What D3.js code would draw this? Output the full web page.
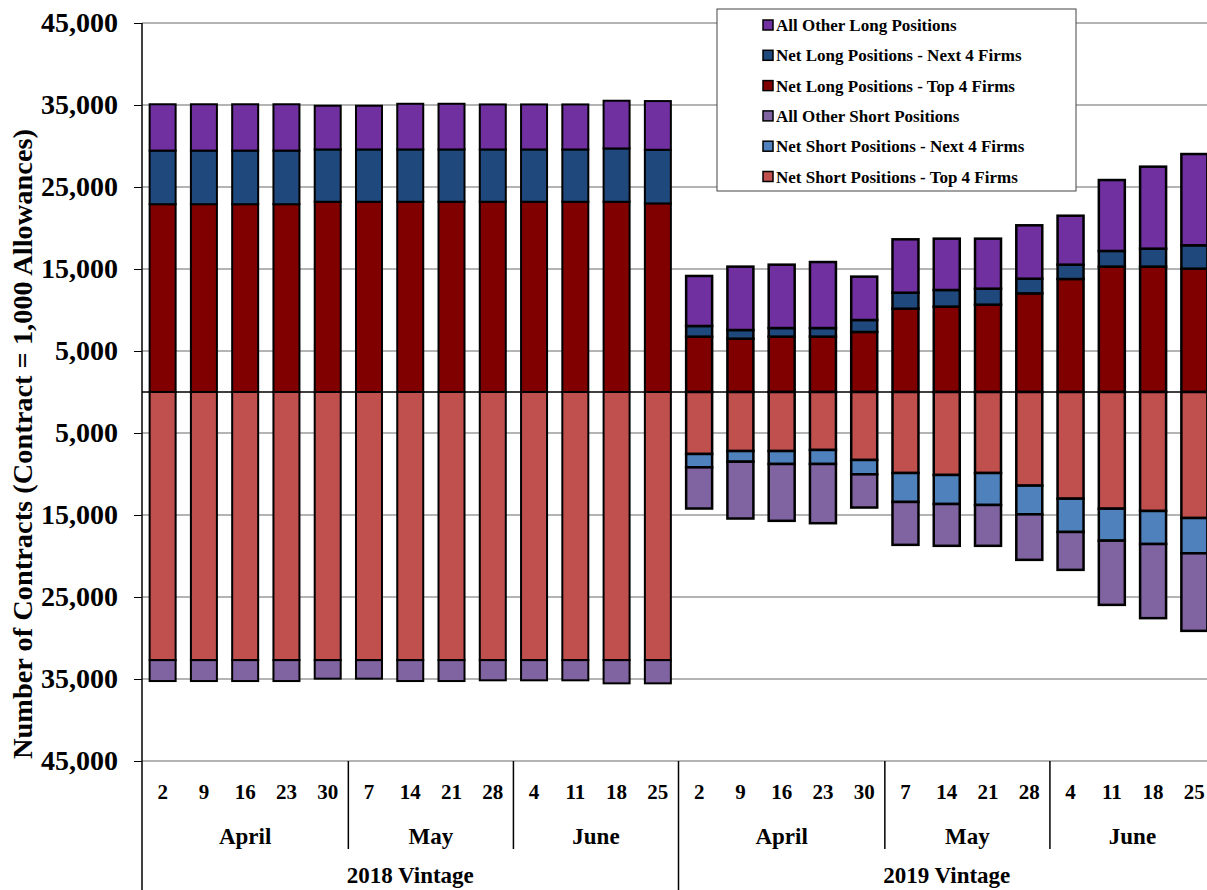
<!DOCTYPE html>
<html>
<head>
<meta charset="utf-8">
<script src="https://cdn.jsdelivr.net/npm/d3@7"></script>
<style>
  body { margin: 0; background: #fff; }
  text { font-family: "Liberation Serif", "Times New Roman", serif; font-weight: bold; fill: #000; }
</style>
</head>
<body>
<svg id="chart" width="1207" height="890"></svg>
<script>
// week days (Tuesdays) for each vintage, April-June
const days = ["2", "9", "16", "23", "30", "7", "14", "21", "28", "4", "11", "18", "25"];
const months = ["April", "May", "June"];
const monthSpans = [5, 4, 4];
const vintages = ["2018 Vintage", "2019 Vintage"];

// long side (thousand-allowance contracts), 2018 then 2019
const longTop4 = [22900, 22900, 22900, 22900, 23200, 23200, 23200, 23200, 23200, 23200, 23200, 23200, 23000,
  6750, 6500, 6750, 6750, 7320, 10160, 10410, 10650, 12030, 13780, 15290, 15290, 15040];
const longNext4 = [6540, 6540, 6540, 6540, 6380, 6380, 6380, 6380, 6380, 6380, 6380, 6500, 6540,
  1300, 1060, 1050, 1050, 1460, 1950, 2030, 1950, 1790, 1750, 1910, 2190, 2850];
const longOther = [5650, 5650, 5650, 5650, 5330, 5330, 5570, 5570, 5490, 5490, 5490, 5820, 5940,
  6100, 7730, 7730, 8050, 5290, 6510, 6260, 6100, 6510, 5970, 8650, 10000, 11130];

// short side
const shortTop4 = [32700, 32700, 32700, 32700, 32700, 32700, 32700, 32700, 32700, 32700, 32700, 32700, 32700,
  7560, 7200, 7200, 7070, 8290, 9880, 10120, 9880, 11420, 13010, 14230, 14510, 15370];
const shortNext4 = [0, 0, 0, 0, 0, 0, 0, 0, 0, 0, 0, 0, 0,
  1630, 1300, 1580, 1710, 1750, 3530, 3540, 3900, 3500, 4060, 3900, 4030, 4300];
const shortOther = [2550, 2550, 2550, 2550, 2260, 2260, 2550, 2550, 2460, 2460, 2460, 2830, 2830,
  5020, 6930, 6930, 7220, 4050, 5230, 5100, 4980, 5550, 4620, 7830, 9040, 9460];

const yTicks = [45000, 35000, 25000, 15000, 5000, -5000, -15000, -25000, -35000, -45000];

const series = [
  { key: "longTop4", name: "Net Long Positions - Top 4 Firms", color: "#800000", values: longTop4, sign: 1 },
  { key: "longNext4", name: "Net Long Positions - Next 4 Firms", color: "#1f497d", values: longNext4, sign: 1 },
  { key: "longOther", name: "All Other Long Positions", color: "#7030a0", values: longOther, sign: 1 },
  { key: "shortTop4", name: "Net Short Positions - Top 4 Firms", color: "#c0504d", values: shortTop4, sign: -1 },
  { key: "shortNext4", name: "Net Short Positions - Next 4 Firms", color: "#4f81bd", values: shortNext4, sign: -1 },
  { key: "shortOther", name: "All Other Short Positions", color: "#8064a2", values: shortOther, sign: -1 }
];
const legendOrder = ["longOther", "longNext4", "longTop4", "shortOther", "shortNext4", "shortTop4"];

const n = longTop4.length;
const rows = d3.range(n).map(i => {
  const r = { i };
  series.forEach(s => { r[s.key] = s.sign * s.values[i]; });
  return r;
});

const svg = d3.select("#chart");
const plotLeft = 142, plotTop = 23, plotBottom = 761, plotRight = 1215;

const x = d3.scaleBand().domain(d3.range(n)).range([plotLeft, plotRight])
  .paddingInner(0.37).paddingOuter(0.185);
const step = x.step();
const y = d3.scaleLinear().domain([-45000, 45000]).range([plotBottom, plotTop]);

// gridlines
svg.append("g").selectAll("line").data(yTicks).join("line")
  .attr("x1", plotLeft).attr("x2", plotRight)
  .attr("y1", d => y(d)).attr("y2", d => y(d))
  .attr("stroke", "#6a6a6a").attr("stroke-width", 1.2);

// bars
const stack = d3.stack().keys(series.map(s => s.key)).offset(d3.stackOffsetDiverging);
const stacked = stack(rows);
const colorOf = Object.fromEntries(series.map(s => [s.key, s.color]));

svg.append("g").selectAll("g").data(stacked).join("g")
  .attr("fill", d => colorOf[d.key])
  .selectAll("rect").data(d => d.filter(p => p[1] !== p[0])).join("rect")
  .attr("x", d => x(d.data.i))
  .attr("width", x.bandwidth())
  .attr("y", d => y(Math.max(d[0], d[1])))
  .attr("height", d => Math.abs(y(d[0]) - y(d[1])))
  .attr("stroke", "#000")
  .attr("stroke-width", d => d.data.i < 13 ? 2 : 2.5);

// zero line
svg.append("line").attr("x1", plotLeft).attr("x2", plotRight)
  .attr("y1", y(0)).attr("y2", y(0)).attr("stroke", "#000").attr("stroke-width", 1.5);

// y axis
const yAxis = d3.axisLeft(y).tickValues(yTicks).tickSize(8).tickPadding(16)
  .tickFormat(d => d3.format(",")(Math.abs(d)));
const gy = svg.append("g").attr("transform", `translate(${plotLeft},0)`).call(yAxis);
gy.select(".domain").remove();
gy.selectAll(".tick line").attr("stroke", "#000");
gy.selectAll(".tick text").style("font-size", "28px")
  .style("font-family", "'Liberation Serif', serif").style("font-weight", "bold").attr("fill", "#000");
svg.append("line").attr("x1", plotLeft).attr("x2", plotLeft).attr("y1", plotTop).attr("y2", 890)
  .attr("stroke", "#000").attr("stroke-width", 1.5);

svg.append("text")
  .attr("transform", "translate(32,444) rotate(-90)")
  .attr("text-anchor", "middle")
  .attr("textLength", 630)
  .attr("lengthAdjust", "spacingAndGlyphs")
  .style("font-size", "27px")
  .text("Number of Contracts (Contract = 1,000 Allowances)");

// category axis: days
svg.append("g").selectAll("text").data(d3.range(n)).join("text")
  .attr("x", i => x(i) + x.bandwidth() / 2)
  .attr("y", 799)
  .attr("text-anchor", "middle")
  .style("font-size", "21px")
  .text(i => days[i % days.length]);

// months and vintages
const monthCells = [];
vintages.forEach((v, vi) => {
  let start = vi * days.length;
  months.forEach((m, mi) => {
    monthCells.push({ name: m, start, span: monthSpans[mi] });
    start += monthSpans[mi];
  });
});
const edge = i => plotLeft + i * step;

svg.append("g").selectAll("text").data(monthCells).join("text")
  .attr("x", d => edge(d.start + d.span / 2))
  .attr("y", 844)
  .attr("text-anchor", "middle")
  .style("font-size", "23px")
  .text(d => d.name);

svg.append("g").selectAll("line").data(monthCells.filter(d => d.start % days.length !== 0)).join("line")
  .attr("x1", d => edge(d.start)).attr("x2", d => edge(d.start))
  .attr("y1", plotBottom).attr("y2", 849)
  .attr("stroke", "#000").attr("stroke-width", 1.5);

svg.append("g").selectAll("text").data(vintages).join("text")
  .attr("x", (d, vi) => edge(vi * days.length + days.length / 2))
  .attr("y", 883)
  .attr("text-anchor", "middle")
  .style("font-size", "23px")
  .text(d => d);

svg.append("line").attr("x1", edge(days.length)).attr("x2", edge(days.length))
  .attr("y1", plotBottom).attr("y2", 890).attr("stroke", "#000").attr("stroke-width", 1.5);

// legend
const lg = svg.append("g");
lg.append("rect").attr("x", 717).attr("y", 9).attr("width", 359).attr("height", 182)
  .attr("fill", "#fff").attr("stroke", "#444").attr("stroke-width", 1);
const items = legendOrder.map(k => series.find(s => s.key === k));
const li = lg.selectAll("g.item").data(items).join("g").attr("class", "item")
  .attr("transform", (d, i) => `translate(763,${25 + i * 30.3})`);
li.append("rect").attr("x", 0).attr("y", -5).attr("width", 10).attr("height", 10)
  .attr("fill", d => d.color).attr("stroke", "#000").attr("stroke-width", 1.5);
li.append("text").attr("x", 13).attr("y", 6).style("font-size", "17px").text(d => d.name);
</script>
</body>
</html>
